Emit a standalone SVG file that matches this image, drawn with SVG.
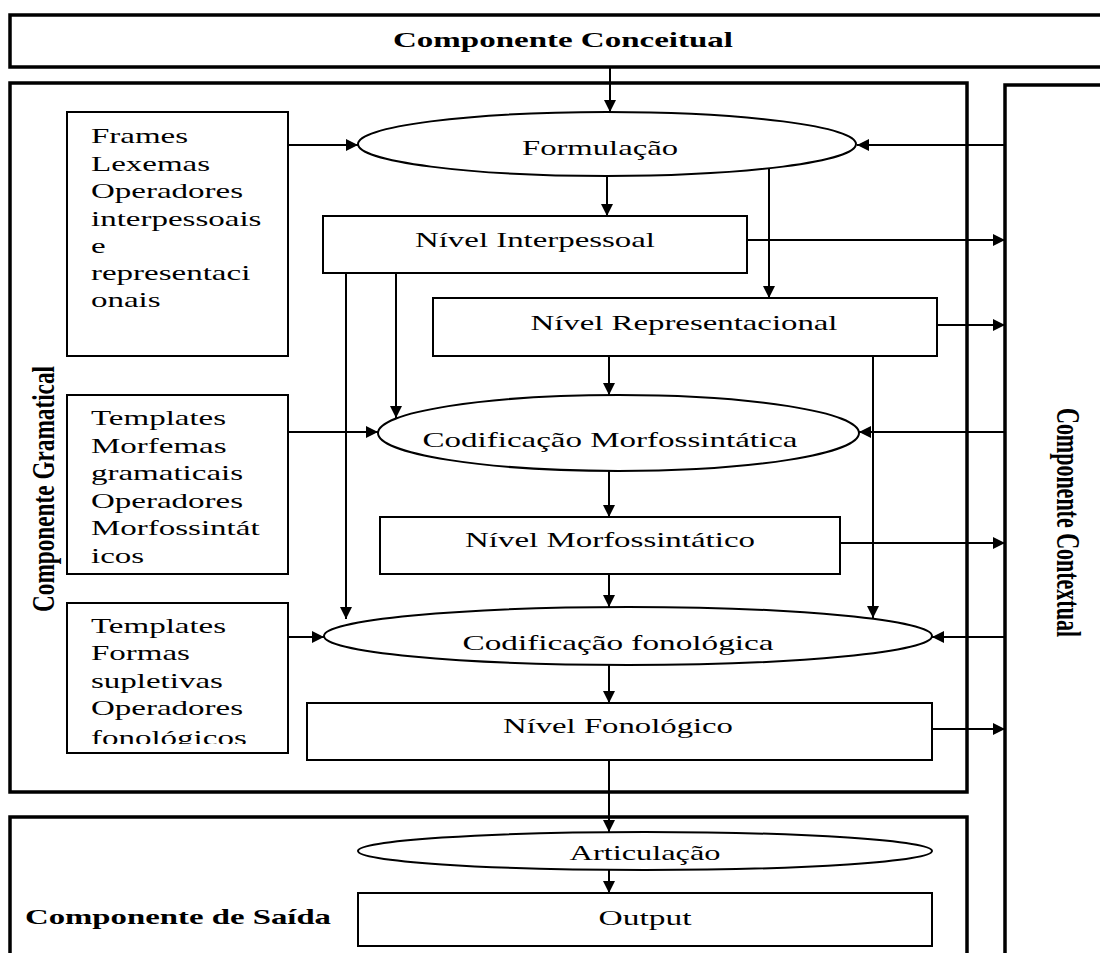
<svg xmlns="http://www.w3.org/2000/svg" width="1100" height="953" viewBox="0 0 1100 953">
  <style>
    .comp { fill: #fff; stroke: #000; stroke-width: 3.5; }
    .box { fill: #fff; stroke: #000; stroke-width: 2; }
    .lbl { font-family: "Liberation Serif", "Times New Roman", serif; font-size: 22px; fill: #000; }
    .bold { font-weight: bold; }
    .mid { text-anchor: middle; }
    .wire { fill: none; stroke: #000; stroke-width: 2; }
  </style>
  <defs>
    <marker id="arrow" viewBox="0 0 12 12" refX="12" refY="6" markerWidth="12" markerHeight="12" markerUnits="userSpaceOnUse" orient="auto">
      <path d="M0,0 L12,6 L0,12 Z" fill="#000"/>
    </marker>
    <clipPath id="clip-fon">
      <rect x="67" y="603" width="221" height="141"/>
    </clipPath>
  </defs>
  <rect width="1100" height="953" fill="#fff"/>

  <!-- outer components -->
  <g id="componente-conceitual">
    <rect class="comp" x="10" y="15" width="1200" height="52"/>
    <text class="lbl bold mid" x="563" y="47" textLength="340" lengthAdjust="spacingAndGlyphs">Componente Conceitual</text>
  </g>
  <g id="componente-gramatical">
    <rect class="comp" x="10" y="83" width="957" height="709"/>
    <text class="lbl bold" font-size="23" transform="translate(54 612) rotate(-90) scale(1 1.45)" textLength="246" lengthAdjust="spacingAndGlyphs">Componente Gramatical</text>
  </g>
  <g id="componente-contextual">
    <rect class="comp" x="1005" y="85" width="200" height="1000"/>
    <text class="lbl bold" transform="translate(1057 408) rotate(90) scale(1 1.5)" textLength="229" lengthAdjust="spacingAndGlyphs">Componente Contextual</text>
  </g>
  <g id="componente-saida">
    <rect class="comp" x="10" y="817" width="957" height="200"/>
    <text class="lbl bold" x="25" y="924" textLength="306" lengthAdjust="spacingAndGlyphs">Componente de Saída</text>
  </g>

  <!-- resource boxes -->
  <g id="recursos-formulacao">
    <rect class="box" x="67" y="112" width="221" height="244"/>
    <g transform="translate(91 0) scale(1.5 1)">
      <text class="lbl" x="0" y="143">Frames</text>
      <text class="lbl" x="0" y="171">Lexemas</text>
      <text class="lbl" x="0" y="198">Operadores</text>
      <text class="lbl" x="0" y="226">interpessoais</text>
      <text class="lbl" x="0" y="253">e</text>
      <text class="lbl" x="0" y="280">representaci</text>
      <text class="lbl" x="0" y="307">onais</text>
    </g>
  </g>
  <g id="recursos-morfossintaxe">
    <rect class="box" x="67" y="395" width="221" height="179"/>
    <g transform="translate(91 0) scale(1.5 1)">
      <text class="lbl" x="0" y="425">Templates</text>
      <text class="lbl" x="0" y="453">Morfemas</text>
      <text class="lbl" x="0" y="480">gramaticais</text>
      <text class="lbl" x="0" y="508">Operadores</text>
      <text class="lbl" x="0" y="535">Morfossintát</text>
      <text class="lbl" x="0" y="563">icos</text>
    </g>
  </g>
  <g id="recursos-fonologia">
    <rect class="box" x="67" y="603" width="221" height="150"/>
    <g clip-path="url(#clip-fon)">
      <g transform="translate(91 0) scale(1.5 1)">
        <text class="lbl" x="0" y="633">Templates</text>
        <text class="lbl" x="0" y="660">Formas</text>
        <text class="lbl" x="0" y="688">supletivas</text>
        <text class="lbl" x="0" y="715">Operadores</text>
        <text class="lbl" x="0" y="745">fonológicos</text>
      </g>
    </g>
  </g>

  <!-- connectors -->
  <g id="connectors" class="wire">
    <path class="wire" d="M610,67 V112" marker-end="url(#arrow)"/>
    <path class="wire" d="M288,145 H358" marker-end="url(#arrow)"/>
    <path class="wire" d="M1005,145 H857" marker-end="url(#arrow)"/>
    <path class="wire" d="M607,176 V216" marker-end="url(#arrow)"/>
    <path class="wire" d="M747,240 H1005" marker-end="url(#arrow)"/>
    <path class="wire" d="M769,168 V298" marker-end="url(#arrow)"/>
    <path class="wire" d="M937,325 H1005" marker-end="url(#arrow)"/>
    <path class="wire" d="M609,356 V395" marker-end="url(#arrow)"/>
    <path class="wire" d="M396,273 V418" marker-end="url(#arrow)"/>
    <path class="wire" d="M346,273 V619" marker-end="url(#arrow)"/>
    <path class="wire" d="M873,356 V618" marker-end="url(#arrow)"/>
    <path class="wire" d="M288,432 H378" marker-end="url(#arrow)"/>
    <path class="wire" d="M1005,432 H859" marker-end="url(#arrow)"/>
    <path class="wire" d="M609,471 V517" marker-end="url(#arrow)"/>
    <path class="wire" d="M840,543 H1005" marker-end="url(#arrow)"/>
    <path class="wire" d="M609,574 V607" marker-end="url(#arrow)"/>
    <path class="wire" d="M288,637 H324" marker-end="url(#arrow)"/>
    <path class="wire" d="M1005,637 H932" marker-end="url(#arrow)"/>
    <path class="wire" d="M609,665 V703" marker-end="url(#arrow)"/>
    <path class="wire" d="M932,729 H1005" marker-end="url(#arrow)"/>
    <path class="wire" d="M609,760 V832" marker-end="url(#arrow)"/>
    <path class="wire" d="M609,870 V893" marker-end="url(#arrow)"/>
  </g>

  <!-- process nodes -->
  <g id="formulacao">
    <ellipse class="box" cx="607" cy="144" rx="249" ry="32"/>
    <text class="lbl mid" x="600" y="155" textLength="156" lengthAdjust="spacingAndGlyphs">Formulação</text>
  </g>
  <g id="nivel-interpessoal">
    <rect class="box" x="323" y="216" width="424" height="57"/>
    <text class="lbl mid" x="535" y="247" textLength="240" lengthAdjust="spacingAndGlyphs">Nível Interpessoal</text>
  </g>
  <g id="nivel-representacional">
    <rect class="box" x="433" y="298" width="504" height="58"/>
    <text class="lbl mid" x="684" y="330" textLength="307" lengthAdjust="spacingAndGlyphs">Nível Representacional</text>
  </g>
  <g id="codificacao-morfossintatica">
    <ellipse class="box" cx="618.5" cy="433" rx="240.5" ry="38"/>
    <text class="lbl mid" x="610" y="447" textLength="375" lengthAdjust="spacingAndGlyphs">Codificação Morfossintática</text>
  </g>
  <g id="nivel-morfossintatico">
    <rect class="box" x="380" y="517" width="460" height="57"/>
    <text class="lbl mid" x="610" y="547" textLength="290" lengthAdjust="spacingAndGlyphs">Nível Morfossintático</text>
  </g>
  <g id="codificacao-fonologica">
    <ellipse class="box" cx="628" cy="636" rx="304" ry="29"/>
    <text class="lbl mid" x="618" y="650" textLength="311" lengthAdjust="spacingAndGlyphs">Codificação fonológica</text>
  </g>
  <g id="nivel-fonologico">
    <rect class="box" x="307" y="703" width="625" height="57"/>
    <text class="lbl mid" x="618" y="733" textLength="230" lengthAdjust="spacingAndGlyphs">Nível Fonológico</text>
  </g>
  <g id="articulacao">
    <ellipse class="box" cx="645" cy="851" rx="287" ry="19"/>
    <text class="lbl mid" x="645" y="860" textLength="151" lengthAdjust="spacingAndGlyphs">Articulação</text>
  </g>
  <g id="output">
    <rect class="box" x="358" y="893" width="574" height="53"/>
    <text class="lbl mid" x="645" y="925" textLength="93" lengthAdjust="spacingAndGlyphs">Output</text>
  </g>
</svg>
